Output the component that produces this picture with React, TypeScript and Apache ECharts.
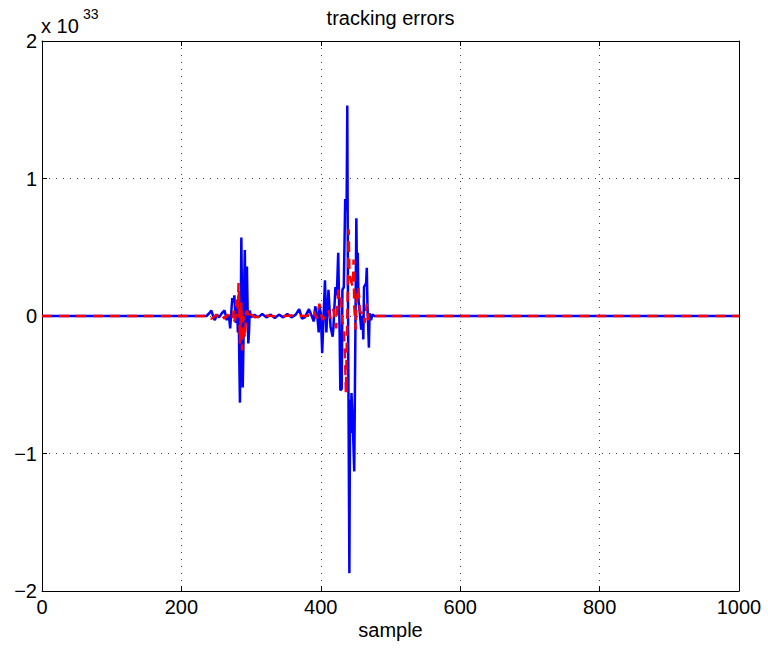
import React, { useEffect, useRef } from "react";
import * as echarts from "echarts";

const xTicks = [0, 200, 400, 600, 800, 1000];
const yTicks = [-2, -1, 0, 1, 2];

const blueSample = [0, 236, 240, 243, 246, 248, 251, 254, 258, 262, 265, 268, 270, 272, 273, 275, 276, 278, 280, 281, 282, 283, 284, 285, 286, 287, 288, 289, 290, 291, 292, 293, 294, 295, 296, 297, 298, 300, 305, 310, 316, 322, 328, 334, 340, 346, 352, 358, 364, 369, 373, 377, 383, 387, 390, 392, 395, 397, 398, 400, 402, 404, 406, 408, 411, 414, 417, 418, 421, 423, 425, 427, 428, 430, 431, 433, 435, 437, 438, 439, 441, 442, 443, 444, 446, 448, 450, 451, 452, 453, 454, 456, 458, 460, 461, 462, 465, 466, 467, 469, 470, 472, 474, 477, 1000];
const blueValue = [0, 0, 0.02, 0.04, -0.01, -0.03, 0.01, -0.01, 0.02, 0.04, -0.03, 0.01, -0.09, 0.06, 0.13, 0.1, 0.15, -0.05, 0.08, -0.12, 0.15, -0.3, -0.63, -0.1, 0.57, 0.1, -0.52, -0.2, 0.2, 0.48, -0.05, 0.15, 0.36, 0.05, -0.2, -0.12, 0.04, -0.01, 0.01, -0.01, 0.015, -0.01, 0.01, -0.015, 0.01, -0.01, 0.015, -0.01, 0.01, 0.05, -0.02, -0.01, 0.05, 0.0, -0.04, 0.07, 0.0, -0.12, 0.07, 0.02, -0.27, 0.0, 0.26, -0.12, 0.19, -0.08, -0.15, -0.09, 0.21, 0.15, 0.46, -0.12, -0.54, -0.53, 0.19, 0.21, 0.85, 0.77, 1.53, 0.12, -1.87, -0.61, -0.85, -0.56, -0.8, -1.13, 0.12, 0.71, 0.26, 0.46, 0.12, 0.02, -0.1, 0, -0.17, 0.21, 0.24, 0.35, 0.07, -0.23, 0.02, -0.03, 0.01, 0, 0];

const redSample = [0, 240, 243, 246, 250, 255, 259, 262, 266, 270, 273, 275, 276, 278, 279, 281, 282, 283, 284, 285, 286, 287, 288, 289, 291, 293, 294, 297, 300, 306, 320, 340, 360, 380, 390, 394, 398, 401, 403, 407, 411, 414, 418, 422, 425, 427, 429, 431, 433, 435, 436, 438, 440, 441, 443, 446, 447, 448, 450, 451, 454, 456, 458, 461, 463, 466, 468, 470, 1000];
const redValue = [0, 0, -0.02, -0.01, 0.01, -0.02, 0.0, -0.02, 0.01, -0.01, -0.03, 0.04, -0.04, 0.0, 0.12, 0.05, 0.24, 0.07, -0.2, -0.05, 0.1, -0.25, -0.1, 0.0, -0.16, 0.02, 0.04, -0.02, 0.01, -0.01, 0.005, -0.005, 0.005, 0, 0.04, -0.02, 0.09, 0.0, -0.03, 0.02, 0.04, -0.02, 0.05, -0.09, 0.19, 0.17, 0.12, -0.03, -0.1, -0.34, -0.56, 0, 0.63, 0.31, 0.26, 0.21, 0.41, 0.07, -0.1, 0.09, 0.21, 0.04, 0.02, 0.03, -0.05, 0.09, -0.03, 0, 0];

const titleText = "tracking errors";
const xLabelText = "sample";
const exponentBase = "x 10";
const exponentPower = "33";

const FONT = "Liberation Sans, Arial, Helvetica, sans-serif";

export default function App() {
  const ref = useRef<HTMLDivElement>(null);
  useEffect(() => {
    if (!ref.current) return;
    const chart = echarts.init(ref.current, undefined, { renderer: "svg" });
    const grid = { left: 42, right: 29, top: 41, bottom: 58 };
    const plotCenterX = grid.left + (768 - grid.left - grid.right) / 2;
    const fmtY = (v: number) => (v < 0 ? "\u2212" + Math.abs(v) : String(v));
    const fmtX = (v: number) => String(v);
    const gridLine = { show: true, lineStyle: { color: "#444", width: 1, type: [1, 6] as any } };
    const tickStyle = { show: true, inside: true, length: 5, lineStyle: { color: "#000", width: 1 } };
    chart.setOption({
      animation: false,
      backgroundColor: "#fff",
      grid: { ...grid, containLabel: false },
      xAxis: [
        {
          type: "value",
          min: xTicks[0],
          max: xTicks[xTicks.length - 1],
          interval: 200,
          position: "bottom",
          axisLine: { show: true, onZero: false, lineStyle: { color: "#000", width: 1 } },
          axisTick: tickStyle,
          axisLabel: { color: "#000", fontSize: 20, fontFamily: FONT, margin: 6, formatter: fmtX },
          splitLine: gridLine,
        },
        {
          type: "value",
          min: xTicks[0],
          max: xTicks[xTicks.length - 1],
          interval: 200,
          position: "top",
          axisLine: { show: true, onZero: false, lineStyle: { color: "#000", width: 1 } },
          axisTick: tickStyle,
          axisLabel: { show: false },
          splitLine: { show: false },
        },
      ],
      yAxis: [
        {
          type: "value",
          min: yTicks[0],
          max: yTicks[yTicks.length - 1],
          interval: 1,
          position: "left",
          axisLine: { show: true, onZero: false, lineStyle: { color: "#000", width: 1 } },
          axisTick: tickStyle,
          axisLabel: { color: "#000", fontSize: 20, fontFamily: FONT, margin: 5, formatter: fmtY },
          splitLine: gridLine,
        },
        {
          type: "value",
          min: yTicks[0],
          max: yTicks[yTicks.length - 1],
          interval: 1,
          position: "right",
          axisLine: { show: true, onZero: false, lineStyle: { color: "#000", width: 1 } },
          axisTick: tickStyle,
          axisLabel: { show: false },
          splitLine: { show: false },
        },
      ],
      series: [
        {
          type: "line",
          xAxisIndex: 0,
          yAxisIndex: 0,
          data: blueSample.map((s, i) => [s, blueValue[i]]),
          showSymbol: false,
          symbol: "none",
          lineStyle: { color: "#0000ff", width: 2.5 },
          z: 2,
        },
        {
          type: "line",
          xAxisIndex: 0,
          yAxisIndex: 0,
          data: redSample.map((s, i) => [s, redValue[i]]),
          showSymbol: false,
          symbol: "none",
          lineStyle: { color: "#ff0000", width: 2.5, type: [10, 7] as any },
          z: 3,
        },
      ],
      graphic: [
        {
          type: "text",
          x: plotCenterX,
          y: 18,
          style: { text: titleText, fill: "#000", font: `20px ${FONT}`, textAlign: "center", textVerticalAlign: "middle" },
        },
        {
          type: "text",
          x: plotCenterX,
          y: 630,
          style: { text: xLabelText, fill: "#000", font: `20px ${FONT}`, textAlign: "center", textVerticalAlign: "middle" },
        },
        {
          type: "text",
          x: 41,
          y: 26,
          style: { text: exponentBase, fill: "#000", font: `20px ${FONT}`, textAlign: "left", textVerticalAlign: "middle" },
        },
        {
          type: "text",
          x: 83,
          y: 14,
          style: { text: exponentPower, fill: "#000", font: `14px ${FONT}`, textAlign: "left", textVerticalAlign: "middle" },
        },
      ],
    });
    return () => chart.dispose();
  }, []);
  return (
    <div
      ref={ref}
      style={{ position: "fixed", left: 0, top: 0, width: 768, height: 649, background: "#fff" }}
    />
  );
}
